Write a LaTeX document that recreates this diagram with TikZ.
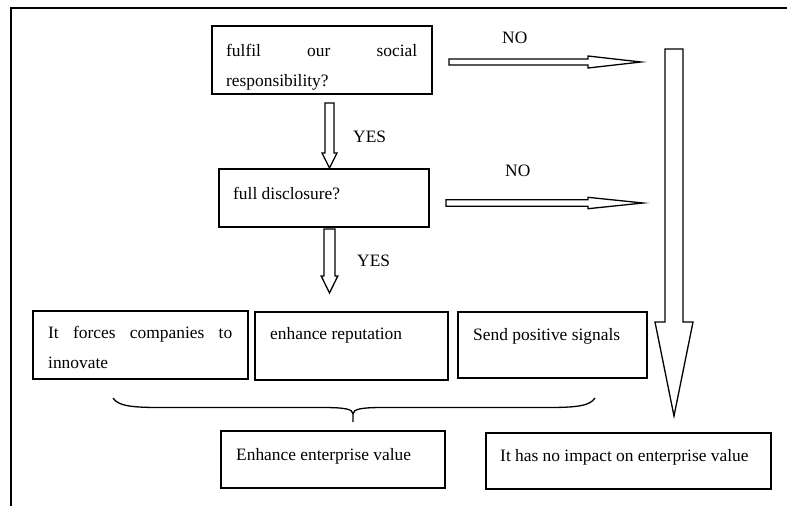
\documentclass[tikz,border=0pt]{standalone}
\usepackage{fontspec}
\setmainfont{Liberation Serif}
\usepackage{tikz}
\usetikzlibrary{calc}

\tikzset{
  box/.style={draw, line width=1.5pt, inner sep=0pt},
  txt/.style={anchor=base west, inner sep=0pt, align=left, font=\fontsize{17.4}{30}\selectfont},
  fat/.style={draw, line width=1.3pt, fill=white, line join=miter},
}

% hollow block arrows: start, tip, shaft half width, head half width, head length
\newcommand{\fatdown}[5]{%
  \draw[fat] let \p1=(#1), \p2=(#2) in
    (\x1-#3,\y1) -- (\x1+#3,\y1) -- (\x1+#3,\y2+#5) -- (\x1+#4,\y2+#5)
    -- (\x1,\y2) -- (\x1-#4,\y2+#5) -- (\x1-#3,\y2+#5) -- cycle;}
\newcommand{\fatright}[5]{%
  \draw[fat] let \p1=(#1), \p2=(#2) in
    (\x1,\y1+#3) -- (\x2-#5,\y1+#3) -- (\x2-#5,\y1+#4) -- (\x2,\y1)
    -- (\x2-#5,\y1-#4) -- (\x2-#5,\y1-#3) -- (\x1,\y1-#3) -- cycle;}

\begin{document}
\begin{tikzpicture}[x=1pt, y=-1pt]
    \useasboundingbox (0,0) rectangle (787,506);
    % Frame
    \draw[line width=1.5pt] (11,506) -- (11,8) -- (787,8);
    % Questions (base of a two-line text is its last line)
    \node[box, minimum width=220, minimum height=68] (q1) at (322,60) {};
    \node[txt] (q1t) at (226,86) {\makebox[191pt][s]{fulfil our social}\\responsibility?};
    \node[box, minimum width=210, minimum height=58] (q2) at (324,198) {};
    \node[txt] (q2t) at (233,199) {full disclosure?};
    % Reasons
    \node[box, minimum width=215, minimum height=68] (ra) at (140.5,345) {};
    \node[txt] (rat) at (48,368) {\makebox[184pt][s]{It forces companies to}\\innovate};
    \node[box, minimum width=193, minimum height=68] (rb) at (351.5,346) {};
    \node[txt] (rbt) at (270,339) {enhance reputation};
    \node[box, minimum width=189, minimum height=66] (rc) at (552.5,345) {};
    \node[txt] (rct) at (473,340) {Send positive signals};
    % Results
    \node[box, minimum width=224, minimum height=57] (vd) at (333,459.5) {};
    \node[txt] (vdt) at (236,460) {Enhance enterprise value};
    \node[box, minimum width=285, minimum height=56] (ve) at (628.5,461) {};
    \node[txt] (vet) at (500,461) {It has no impact on enterprise value};
    % Arrow ends
    \coordinate (no1s) at (449,62);   \coordinate (no1e) at (641,62);
    \coordinate (no2s) at (446,203);  \coordinate (no2e) at (643,203);
    \coordinate (yes1s) at (329.5,103); \coordinate (yes1e) at (329.5,168);
    \coordinate (yes2s) at (329.5,229); \coordinate (yes2e) at (329.5,293);
    \coordinate (bigs) at (674,49);   \coordinate (bige) at (674,416);
    % Block arrows
    \fatright{no1s}{no1e}{3pt}{6pt}{53pt}
    \fatright{no2s}{no2e}{3.3pt}{5.7pt}{55pt}
    \fatdown{yes1s}{yes1e}{4.5pt}{7.5pt}{15pt}
    \fatdown{yes2s}{yes2e}{5.5pt}{8.3pt}{17pt}
    \fatdown{bigs}{bige}{9pt}{19pt}{94pt}
    % Labels
    \node[txt] (no1) at (502,43) {NO};
    \node[txt] (no2) at (505,176) {NO};
    \node[txt] (yes1) at (353,142) {YES};
    \node[txt] (yes2) at (357,266) {YES};
    % Brace
    \draw[line width=1.3pt] (113,398) .. controls (118,406) and (132,407.5) .. (160,407.5)
        -- (322,407.5) .. controls (345,407.5) and (353,409) .. (353,414) -- (353,422);
    \draw[line width=1.3pt] (595,398) .. controls (590,406) and (576,407.5) .. (548,407.5)
        -- (384,407.5) .. controls (361,407.5) and (353,409) .. (353,414);
\end{tikzpicture}
\end{document}
